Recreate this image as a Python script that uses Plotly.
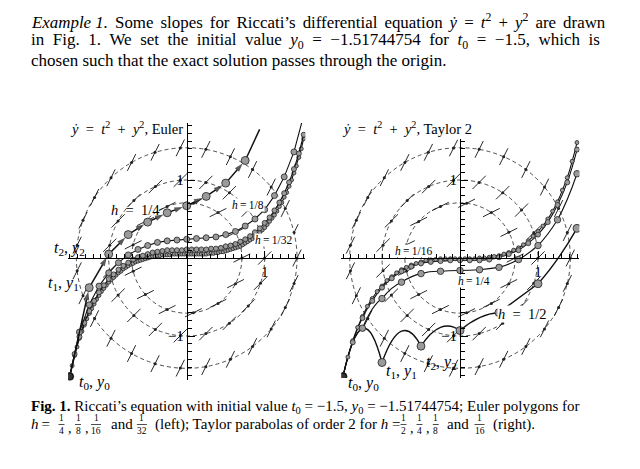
import math
import plotly.graph_objects as go

W, H = 640, 469
SERIF = "Liberation Serif, DejaVu Serif, serif"

# ---------------- data ----------------
T0 = -1.5
Y0 = -1.51744754

EULER_H = [1/4, 1/8, 1/16, 1/32]
EULER_Y4 = [-1.52, -0.38, 0.05, 0.30, 0.46, 0.58, 0.67, 0.79, 0.96, 1.25, 1.79]
EULER_Y8 = [-1.52, -0.95, -0.60, -0.36, -0.19, -0.06, 0.04, 0.11, 0.16, 0.20, 0.22, 0.23, 0.24,
            0.25, 0.26, 0.27, 0.30, 0.34, 0.41, 0.50, 0.62, 0.80, 1.04, 1.36, 1.83]
EULER_Y16 = [-1.52, -1.23, -1.01, -0.83, -0.68, -0.55, -0.44, -0.35, -0.27, -0.21, -0.15, -0.10,
             -0.06, -0.02, 0.01, 0.03, 0.05, 0.07, 0.08, 0.09, 0.10, 0.10, 0.10, 0.10, 0.11, 0.11,
             0.11, 0.11, 0.11, 0.12, 0.12, 0.13, 0.15, 0.16, 0.18, 0.21, 0.24, 0.28, 0.33, 0.38,
             0.45, 0.52, 0.61, 0.71, 0.83, 0.97, 1.14, 1.34, 1.58]
EULER_Y32 = [-1.52, -1.38, -1.25, -1.14, -1.03, -0.94, -0.86, -0.78, -0.71, -0.65, -0.59, -0.53,
             -0.48, -0.43, -0.39, -0.35, -0.31, -0.28, -0.25, -0.22, -0.19, -0.17, -0.14, -0.12,
             -0.10, -0.08, -0.07, -0.05, -0.04, -0.03, -0.02, -0.01, 0.00, 0.01, 0.02, 0.02, 0.03,
             0.03, 0.04, 0.04, 0.04, 0.04, 0.05, 0.05, 0.05, 0.05, 0.05, 0.05, 0.05, 0.05, 0.05,
             0.05, 0.05, 0.05, 0.05, 0.05, 0.05, 0.06, 0.06, 0.06, 0.07, 0.07, 0.08, 0.08, 0.09,
             0.10, 0.11, 0.12, 0.13, 0.14, 0.15, 0.17, 0.19, 0.21, 0.23, 0.25, 0.27, 0.30, 0.33,
             0.36, 0.39, 0.43, 0.47, 0.51, 0.55, 0.60, 0.66, 0.71, 0.78, 0.84, 0.92, 1.00, 1.09,
             1.18, 1.29, 1.40, 1.53]

TAYLOR_H = [1/2, 1/4, 1/8, 1/16]
TAYLOR_Y2 = [-1.52, -1.34, -1.13, -0.93, -0.70, -0.33, 0.38]
TAYLOR_Y4 = [-1.52, -0.90, -0.52, -0.31, -0.20, -0.17, -0.16, -0.15, -0.12, -0.02, 0.16, 0.49, 1.08]
TAYLOR_Y8 = [-1.52, -1.08, -0.77, -0.55, -0.38, -0.26, -0.17, -0.11, -0.07, -0.05, -0.04, -0.03,
             -0.03, -0.03, -0.03, -0.02, 0.01, 0.05, 0.10, 0.19, 0.30, 0.46, 0.68, 0.97, 1.39]
TAYLOR_Y16 = [-1.52, -1.27, -1.06, -0.89, -0.75, -0.62, -0.52, -0.43, -0.36, -0.29, -0.24, -0.19,
              -0.15, -0.12, -0.09, -0.07, -0.05, -0.03, -0.02, -0.02, -0.01, -0.01, -0.01, -0.01,
              -0.01, -0.01, -0.01, -0.01, -0.00, 0.00, 0.01, 0.02, 0.03, 0.05, 0.07, 0.10, 0.13,
              0.17, 0.22, 0.28, 0.34, 0.41, 0.50, 0.60, 0.72, 0.87, 1.03, 1.24, 1.48]

ISO_SLOPES = [0.5, 1.0, 2.0]       # isoclines t^2 + y^2 = c
ISO_MARKS = [13, 19, 27]           # slope marks drawn on each isocline
X_TICKS, X_TICK_TEXT = [1], ['1']
Y_TICKS, Y_TICK_TEXT = [-1, 1], ['\u22121', '1']

EULER_Y = [EULER_Y4, EULER_Y8, EULER_Y16, EULER_Y32]
TAYLOR_Y = [TAYLOR_Y2, TAYLOR_Y4, TAYLOR_Y8, TAYLOR_Y16]


def rhs(t, y):
    return t * t + y * y


# ---------------- geometry ----------------
S = 78.0
LX0, RX0, OY = 186.7, 460.0, 258.0
LXR, LYR = [-1.52, 1.52], [-1.57, 1.73]
RXR, RYR = [-1.52, 1.53], [-1.54, 1.52]


def dom_x(x0, r):
    return [(x0 + r[0] * S) / W, (x0 + r[1] * S) / W]


def dom_y(r):
    return [1 - (OY - r[0] * S) / H, 1 - (OY - r[1] * S) / H]


def common_axis():
    return dict(anchor='free', showline=True, linecolor='black', linewidth=1, ticks='inside',
                tickmode='array', ticklen=7, tickwidth=1, tickcolor='black',
                minor=dict(tickmode='linear', tick0=0, dtick=0.1, ticks='inside',
                           ticklen=4, tickwidth=1, tickcolor='black'),
                showgrid=False, zeroline=False, ticklabelstandoff=0,
                tickfont=dict(family=SERIF, size=15, color='black'), fixedrange=True)


def xax(x0, rng):
    d = common_axis()
    d.update(domain=dom_x(x0, rng), range=rng, position=1 - OY / H,
             tickvals=X_TICKS, ticktext=X_TICK_TEXT)
    return d


def yax(x0, rng):
    d = common_axis()
    d.update(domain=dom_y(rng), range=rng, position=x0 / W,
             tickvals=Y_TICKS, ticktext=Y_TICK_TEXT)
    return d


fig = go.Figure()
shapes = []
annots = []
HALF = 0.12

# isoclines with slope marks
for xr, yr in (('x', 'y'), ('x2', 'y2')):
    segs = []
    cx, cy = [], []
    for c, n in zip(ISO_SLOPES, ISO_MARKS):
        r = math.sqrt(c)
        shapes.append(dict(type='circle', xref=xr, yref=yr, x0=-r, x1=r, y0=-r, y1=r,
                           line=dict(color='#222', width=0.8, dash='4px,3px'), layer='below'))
        dx, dy = 1 / math.sqrt(1 + c * c), c / math.sqrt(1 + c * c)
        for k in range(n):
            a = 2 * math.pi * k / n
            px_, py_ = r * math.cos(a), r * math.sin(a)
            segs.append(f"M{px_ - HALF*dx:.4f},{py_ - HALF*dy:.4f} L{px_ + HALF*dx:.4f},{py_ + HALF*dy:.4f}")
            cx.append(px_)
            cy.append(py_)
    shapes.append(dict(type='path', xref=xr, yref=yr, path=' '.join(segs),
                       line=dict(color='#111', width=0.9), layer='below'))
    fig.add_trace(go.Scatter(x=cx, y=cy, mode='markers', xaxis=xr, yaxis=yr,
                             marker=dict(size=3, color='#222'), hoverinfo='skip'))

# Euler polygons
EMS = [8, 6, 5, 4]
for h, ys, ms in reversed(list(zip(EULER_H, EULER_Y, EMS))):
    ts = [T0 + k * h for k in range(len(ys))]
    if h == 0.25:
        # polygon with arrowheads pointing at each new node
        sizes = [0 if (k == 0 or ys[k] > LYR[1]) else 9 for k in range(len(ys))]
        fig.add_trace(go.Scatter(x=ts, y=ys, mode='lines+markers', xaxis='x', yaxis='y',
                                 line=dict(color='#111', width=1.5),
                                 marker=dict(symbol='arrow', angleref='previous', standoff=4,
                                             size=sizes, color='#111', line=dict(width=0)),
                                 hoverinfo='skip'))
        fig.add_trace(go.Scatter(x=ts, y=ys, mode='markers', xaxis='x', yaxis='y',
                                 marker=dict(size=ms, color='#9a9a9a', line=dict(color='#222', width=0.8)),
                                 hoverinfo='skip'))
    else:
        fig.add_trace(go.Scatter(x=ts, y=ys, mode='lines+markers', xaxis='x', yaxis='y',
                                 line=dict(color='#111', width=1.1),
                                 marker=dict(size=ms, color='#9a9a9a', line=dict(color='#222', width=0.8)),
                                 hoverinfo='skip'))

# Taylor parabolas (quadratic Bezier = Taylor polynomial of order 2)
TMS = [8, 6.5, 5, 4]
for h, ys, ms in reversed(list(zip(TAYLOR_H, TAYLOR_Y, TMS))):
    ts = [T0 + k * h for k in range(len(ys))]
    path = f"M{ts[0]:.4f},{ys[0]:.4f}"
    for k in range(len(ys) - 1):
        fk = rhs(ts[k], ys[k])
        path += f" Q{ts[k] + h/2:.4f},{ys[k] + h/2*fk:.4f} {ts[k+1]:.4f},{ys[k+1]:.4f}"
    shapes.append(dict(type='path', xref='x2', yref='y2', path=path,
                       line=dict(color='#111', width=1.4 if h == 0.5 else 1.1), layer='below'))
    fig.add_trace(go.Scatter(x=ts, y=ys, mode='markers', xaxis='x2', yaxis='y2',
                             marker=dict(size=ms, color='#9a9a9a', line=dict(color='#222', width=0.8)),
                             hoverinfo='skip'))

for xr, yr in (('x', 'y'), ('x2', 'y2')):
    fig.add_trace(go.Scatter(x=[T0], y=[Y0], mode='markers', xaxis=xr, yaxis=yr,
                             marker=dict(size=7, color='#333', line=dict(color='#000', width=0.8)),
                             hoverinfo='skip'))


def txt(x, y, s, size=13, anchor='left', bg=None):
    d = dict(x=x / W, y=1 - y / H, xref='paper', yref='paper', text=s, showarrow=False,
             xanchor=anchor, yanchor='middle', font=dict(family=SERIF, size=size, color='black'))
    if bg:
        d.update(bgcolor=bg, borderpad=0)
    annots.append(d)


EN = '\u2002'
TH = '\u2009'
FOUR = '\u2005'
SIX = '\u2006'
EQ_T = f'<i>ẏ</i>{EN}={EN}<i>t</i><sup>2</sup>{EN}+{EN}<i>y</i><sup>2</sup>'

# plot labels
txt(185, 128, EQ_T + ', Euler', 14.5, 'right')
txt(109, 210, f'<i>h</i>{EN}={EN}1/4', 14.5)
txt(231, 205, f'<i>h</i>{TH}={TH}1/8', 11.5, bg='white')
txt(254, 240, f'<i>h</i>{TH}={TH}1/32', 11.5, bg='white')
txt(52, 248, '<i>t</i><sub>2</sub>, <i>y</i><sub>2</sub>', 16)
txt(46, 283, '<i>t</i><sub>1</sub>, <i>y</i><sub>1</sub>', 16)
txt(77, 382, '<i>t</i><sub>0</sub>, <i>y</i><sub>0</sub>', 16)

txt(340, 128, EQ_T + ', Taylor 2', 14.5)
txt(394, 251, f'<i>h</i>{TH}={TH}1/16', 11.5, bg='white')
txt(457, 281, f'<i>h</i>{TH}={TH}1/4', 11.5, bg='white')
txt(497, 314, f'<i>h</i>{EN}={EN}1/2', 14.5, bg='white')
txt(384, 371, '<i>t</i><sub>1</sub>, <i>y</i><sub>1</sub>', 16)
txt(424, 362, '<i>t</i><sub>2</sub>, <i>y</i><sub>2</sub>', 16)
txt(346, 383, '<i>t</i><sub>0</sub>, <i>y</i><sub>0</sub>', 16)

# page text (justified lines: widened inter-word spaces)
line1a = '<i>Example 1.</i>'
line1b = ' Some slopes for Riccati’s differential equation <i>ẏ</i> = <i>t</i><sup>2</sup> + <i>y</i><sup>2</sup> are drawn'
line2 = 'in Fig. 1. We set the initial value <i>y</i><sub>0</sub> = −1.51744754 for <i>t</i><sub>0</sub> = −1.5, which is'
line3 = 'chosen such that the exact solution passes through the origin.'
txt(29, 21, line1a + line1b.replace(' ', ' ' + SIX), 16.9)
txt(29, 40.5, line2.replace(' ', ' ' + FOUR), 17)
txt(29, 60, line3, 17)

txt(29, 406.5, '<b>Fig. 1.</b> Riccati’s equation with initial value <i>t</i><sub>0</sub> = −1.5, <i>y</i><sub>0</sub> = −1.51744754; Euler polygons for', 15)

FY_NUM, FY_BAR, FY_DEN, FY_TXT = 418, 424.5, 431, 424


def frac(c, den, comma=True):
    txt(c, FY_NUM, '1', 9.5, 'center')
    txt(c, FY_DEN, den, 9.5, 'center')
    w = 6 if len(den) == 1 else 10
    shapes.append(dict(type='line', xref='paper', yref='paper', x0=(c - w/2)/W, x1=(c + w/2)/W,
                       y0=1 - FY_BAR/H, y1=1 - FY_BAR/H, line=dict(color='black', width=0.7)))
    if comma:
        txt(c + w/2 + 1.5, FY_TXT + 4, ',', 14)


CAP = 15
txt(29, FY_TXT, f'<i>h</i>{TH}={TH}', 15)
frac(61.5, '4'); frac(78, '8'); frac(96, '16', False)
txt(108.8, FY_TXT, 'and', CAP)
frac(141.9, '32', False)
txt(153.4, FY_TXT, '(left); Taylor parabolas of order 2 for <i>h</i> =', CAP)
frac(403.5, '2'); frac(419.5, '4'); frac(435.8, '8', False)
txt(444.5, FY_TXT, 'and', CAP)
frac(479.5, '16', False)
txt(490.8, FY_TXT, '(right).', CAP)

fig.update_layout(width=W, height=H, autosize=False, margin=dict(l=0, r=0, t=0, b=0),
                  paper_bgcolor='white', plot_bgcolor='white', showlegend=False,
                  xaxis=xax(LX0, LXR), yaxis=yax(LX0, LYR),
                  xaxis2=xax(RX0, RXR), yaxis2=yax(RX0, RYR),
                  shapes=shapes, annotations=annots)
fig.write_html("out.html")
